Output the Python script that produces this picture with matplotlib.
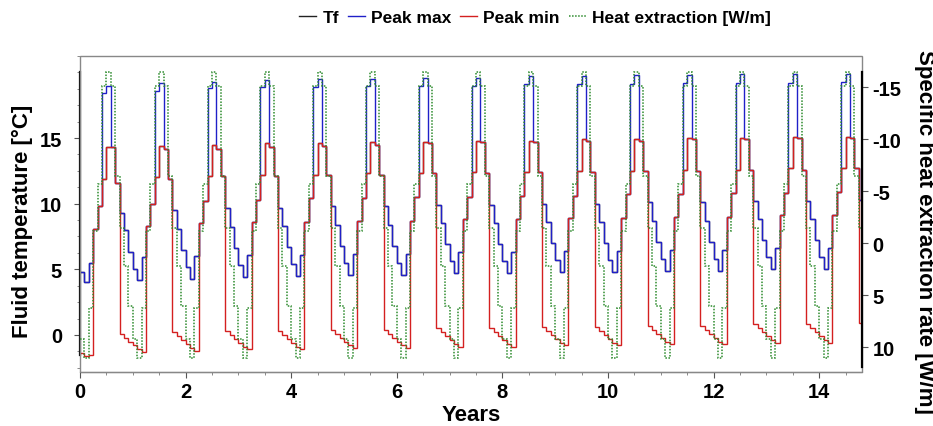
import numpy as np
import matplotlib
matplotlib.use("Agg")
import matplotlib.pyplot as plt
from matplotlib.patches import Rectangle
from matplotlib.ticker import MultipleLocator

plt.rcParams['font.family'] = ['Liberation Sans', 'DejaVu Sans']
plt.rcParams['font.weight'] = 'bold'
plt.rcParams['axes.unicode_minus'] = False

# monthly values, one row per year (Jan..Dec), years 0..14
tf = [
    [4.8, 4.0, 5.5, 8.1, 9.8, 11.9, 14.3, 14.3, 11.6, 9.3, 8.0, 6.3],
    [5.0, 4.2, 5.9, 8.3, 10.0, 12.0, 14.4, 14.2, 11.9, 9.5, 8.1, 6.5],
    [5.2, 4.3, 6.0, 8.5, 10.2, 12.1, 14.5, 14.2, 12.1, 9.7, 8.2, 6.6],
    [5.3, 4.4, 6.1, 8.6, 10.3, 12.2, 14.6, 14.3, 12.1, 9.7, 8.3, 6.7],
    [5.4, 4.5, 6.1, 8.6, 10.4, 12.2, 14.6, 14.4, 12.2, 9.8, 8.4, 6.8],
    [5.5, 4.6, 6.2, 8.7, 10.4, 12.3, 14.7, 14.5, 12.2, 9.8, 8.4, 6.8],
    [5.5, 4.6, 6.2, 8.7, 10.5, 12.3, 14.7, 14.6, 12.3, 9.9, 8.5, 6.9],
    [5.6, 4.7, 6.3, 8.8, 10.5, 12.4, 14.8, 14.7, 12.3, 9.9, 8.5, 6.9],
    [5.6, 4.7, 6.3, 8.8, 10.6, 12.4, 14.8, 14.7, 12.4, 10.0, 8.6, 7.0],
    [5.7, 4.8, 6.4, 8.9, 10.6, 12.5, 14.9, 14.8, 12.4, 10.0, 8.6, 7.0],
    [5.7, 4.8, 6.4, 8.9, 10.7, 12.5, 14.9, 14.8, 12.5, 10.1, 8.7, 7.1],
    [5.8, 4.9, 6.5, 9.0, 10.7, 12.6, 15.0, 14.9, 12.5, 10.1, 8.7, 7.1],
    [5.8, 4.9, 6.5, 9.0, 10.8, 12.6, 15.0, 14.9, 12.6, 10.2, 8.8, 7.2],
    [5.9, 5.0, 6.6, 9.1, 10.8, 12.7, 15.1, 15.0, 12.6, 10.2, 8.8, 7.2],
    [5.9, 5.0, 6.6, 9.1, 10.9, 12.7, 15.1, 15.0, 12.7, 10.3, 8.9, 7.3],
]

peak_max = [
    [4.8, 4.0, 5.5, 8.1, 9.8, 18.4, 19.0, 14.3, 11.6, 9.3, 8.0, 6.3],
    [5.0, 4.2, 5.9, 8.3, 10.0, 18.6, 19.2, 14.2, 11.9, 9.5, 8.1, 6.5],
    [5.2, 4.3, 6.0, 8.5, 10.2, 18.8, 19.3, 14.2, 12.1, 9.7, 8.2, 6.6],
    [5.3, 4.4, 6.1, 8.6, 10.3, 18.9, 19.4, 14.3, 12.1, 9.7, 8.3, 6.7],
    [5.4, 4.5, 6.1, 8.6, 10.4, 18.9, 19.5, 14.4, 12.2, 9.8, 8.4, 6.8],
    [5.5, 4.6, 6.2, 8.7, 10.4, 19.0, 19.5, 14.5, 12.2, 9.8, 8.4, 6.8],
    [5.5, 4.6, 6.2, 8.7, 10.5, 19.0, 19.6, 14.6, 12.3, 9.9, 8.5, 6.9],
    [5.6, 4.7, 6.3, 8.8, 10.5, 19.0, 19.6, 14.7, 12.3, 9.9, 8.5, 6.9],
    [5.6, 4.7, 6.3, 8.8, 10.6, 19.1, 19.7, 14.7, 12.4, 10.0, 8.6, 7.0],
    [5.7, 4.8, 6.4, 8.9, 10.6, 19.1, 19.7, 14.8, 12.4, 10.0, 8.6, 7.0],
    [5.7, 4.8, 6.4, 8.9, 10.7, 19.1, 19.8, 14.8, 12.5, 10.1, 8.7, 7.1],
    [5.8, 4.9, 6.5, 9.0, 10.7, 19.2, 19.8, 14.9, 12.5, 10.1, 8.7, 7.1],
    [5.8, 4.9, 6.5, 9.0, 10.8, 19.2, 19.9, 14.9, 12.6, 10.2, 8.8, 7.2],
    [5.9, 5.0, 6.6, 9.1, 10.8, 19.2, 19.9, 15.0, 12.6, 10.2, 8.8, 7.2],
    [5.9, 5.0, 6.6, 9.1, 10.9, 19.3, 19.9, 15.0, 12.7, 10.3, 8.9, 7.3],
]

peak_min = [
    [-1.4, -1.6, -1.5, 8.1, 9.8, 11.9, 14.3, 14.3, 11.6, 0.1, -0.2, -0.5],
    [-0.8, -1.1, -1.3, 8.3, 10.0, 12.0, 14.4, 14.2, 11.9, 0.2, -0.1, -0.4],
    [-0.7, -1.0, -1.2, 8.5, 10.2, 12.1, 14.5, 14.2, 12.1, 0.3, 0.0, -0.3],
    [-0.6, -0.9, -1.1, 8.6, 10.3, 12.2, 14.6, 14.3, 12.1, 0.3, 0.0, -0.3],
    [-0.6, -0.9, -1.1, 8.6, 10.4, 12.2, 14.6, 14.4, 12.2, 0.4, 0.1, -0.2],
    [-0.5, -0.8, -1.0, 8.7, 10.4, 12.3, 14.7, 14.5, 12.2, 0.4, 0.1, -0.2],
    [-0.5, -0.8, -1.0, 8.7, 10.5, 12.3, 14.7, 14.6, 12.3, 0.5, 0.2, -0.1],
    [-0.4, -0.7, -0.9, 8.8, 10.5, 12.4, 14.8, 14.7, 12.3, 0.5, 0.2, -0.1],
    [-0.4, -0.7, -0.9, 8.8, 10.6, 12.4, 14.8, 14.7, 12.4, 0.6, 0.3, 0.0],
    [-0.3, -0.6, -0.8, 8.9, 10.6, 12.5, 14.9, 14.8, 12.4, 0.6, 0.3, 0.0],
    [-0.3, -0.6, -0.8, 8.9, 10.7, 12.5, 14.9, 14.8, 12.5, 0.7, 0.4, 0.1],
    [-0.2, -0.5, -0.7, 9.0, 10.7, 12.6, 15.0, 14.9, 12.5, 0.7, 0.4, 0.1],
    [-0.2, -0.5, -0.7, 9.0, 10.8, 12.6, 15.0, 14.9, 12.6, 0.8, 0.5, 0.2],
    [-0.1, -0.4, -0.6, 9.1, 10.8, 12.7, 15.1, 15.0, 12.6, 0.8, 0.5, 0.2],
    [-0.1, -0.4, -0.6, 9.1, 10.9, 12.7, 15.1, 15.0, 12.7, 0.9, 0.6, 0.3],
]

# heat extraction load (W/m), same monthly profile every year
heat_year = [9.2, 11.0, 6.2, -1.2, -5.7, -15.1, -16.5, -15.1, -6.5, -1.5, 2.2, 6.0]
n_years = 15

tf = np.ravel(tf)
peak_max = np.ravel(peak_max)
peak_min = np.ravel(peak_min)
heat = np.array(heat_year * n_years)
edges = np.arange(len(tf) + 1) / 12.0

fig = plt.figure(figsize=(9.33, 4.27), dpi=100)
ax = fig.add_axes([0.0857, 0.1265, 0.8382, 0.7407])
ax2 = ax.twinx()

l_tf = ax.stairs(tf, edges, baseline=None, color='#222222', lw=1.0, label='Tf')
l_max = ax.stairs(peak_max, edges, baseline=None, color='#2020c8', lw=1.0, label='Peak max')
l_min = ax.stairs(peak_min, edges, baseline=None, color='#d42020', lw=1.0, label='Peak min')
l_heat = ax2.stairs(heat, edges, baseline=None, color='#2e8b2e', lw=1.1,
                    linestyle=(0, (1, 1)), label='Heat extraction [W/m]')

ax.set_xlim(0, 14.81)
ax.set_ylim(-2.82, 21.27)
ax2.set_ylim(12.37, -18.04)

# grey box, black axis lines over the data range
for a in (ax, ax2):
    for s in a.spines.values():
        s.set_visible(False)
ax.add_patch(Rectangle((0, 0), 1, 1, transform=ax.transAxes, fill=False,
                       ec='#888888', lw=1.0, zorder=5, clip_on=False))
ax.spines['bottom'].set_visible(True)
ax.spines['bottom'].set_color('#222222')
ax.spines['left'].set_visible(True)
ax.spines['left'].set_bounds(-1.5, 20)
ax.spines['left'].set_linewidth(1.6)
ax2.spines['right'].set_visible(True)
ax2.spines['right'].set_bounds(-16.5, 11.9)
ax2.spines['right'].set_linewidth(1.6)

ax.set_xticks(range(0, 15, 2))
ax.xaxis.set_minor_locator(MultipleLocator(0.5))
ax.set_yticks([0, 5, 10, 15])
ax.yaxis.set_minor_locator(MultipleLocator(1.25))
ax2.set_yticks([-15, -10, -5, 0, 5, 10])

ax.tick_params(which='major', direction='out', length=4, labelsize=14.5, width=0.8, color='#555555')
ax.tick_params(axis='y', which='major', pad=9)
ax.tick_params(which='minor', direction='out', length=2.5, width=0.6, color='#777777')
ax2.tick_params(which='major', direction='out', length=4, labelsize=14.5, width=0.8, color='#555555')
for lab in ax.get_xticklabels() + ax.get_yticklabels() + ax2.get_yticklabels():
    lab.set_fontweight('bold')

ax.set_xlabel('Years', fontsize=16, fontweight='bold', labelpad=2)
fig.text(22 / 933, 1 - 221 / 427, 'Fluid temperature [°C]', rotation=90,
         ha='center', va='center', fontsize=16, fontweight='bold')
fig.text(924 / 933, 1 - 232 / 427, 'Specific heat extraction rate [W/m]', rotation=270,
         ha='center', va='center', fontsize=16, fontweight='bold')

fig.legend(handles=[l_tf, l_max, l_min, l_heat], loc='center',
           bbox_to_anchor=(535 / 933, 1 - 18 / 427), ncol=4, frameon=False,
           prop={'size': 12.5, 'weight': 'bold'}, handlelength=1.0,
           handletextpad=0.35, columnspacing=0.5)

fig.savefig('out.png', dpi=100)
